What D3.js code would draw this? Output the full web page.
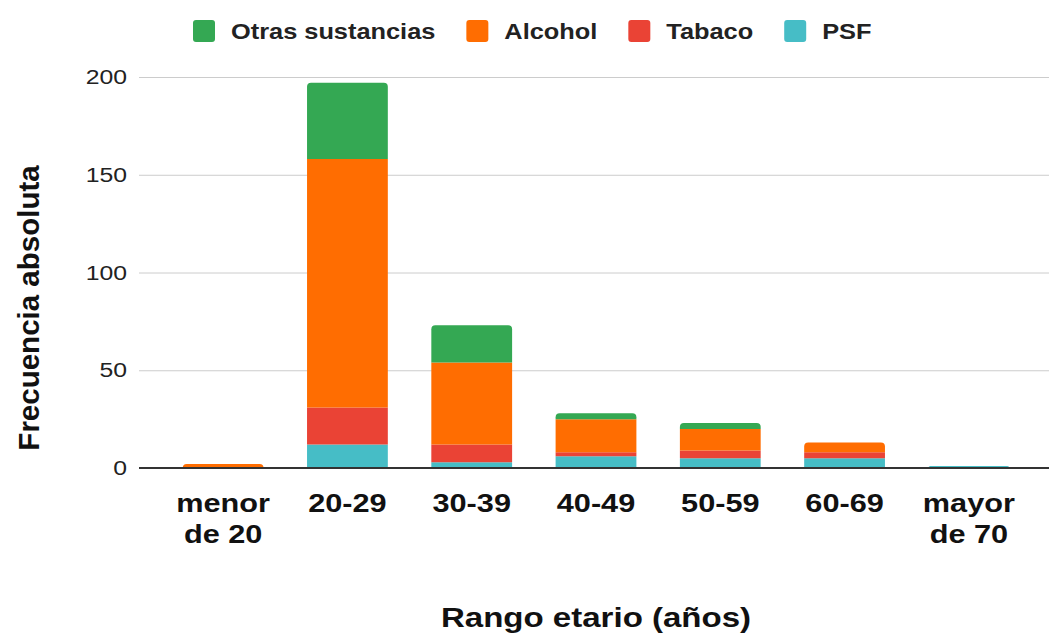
<!DOCTYPE html>
<html>
<head>
<meta charset="utf-8">
<script src="https://cdn.jsdelivr.net/npm/d3@7"></script>
<style>
	body { margin: 0; background: #fff; }
	svg text { font-family: "Liberation Sans", Arial, sans-serif; }
</style>
</head>
<body>
<div id="chart"></div>
<script>

var categories = [["menor", "de 20"], ["20-29"], ["30-39"], ["40-49"], ["50-59"], ["60-69"], ["mayor", "de 70"]];
var seriesNames = ["PSF", "Tabaco", "Alcohol", "Otras sustancias"];
var psf = [0, 12, 3, 6, 5, 5, 1];
var tabaco = [0, 19, 9, 2, 4, 3, 0];
var alcohol = [2, 127, 42, 17, 11, 5, 0];
var otras = [0, 39, 19, 3, 3, 0, 0];
var yTicks = [0, 50, 100, 150, 200];
var legendOrder = ["Otras sustancias", "Alcohol", "Tabaco", "PSF"];

var colors = {"PSF": "#46BDC6", "Tabaco": "#EA4335", "Alcohol": "#FF6D01", "Otras sustancias": "#34A853"};
var values = {"PSF": psf, "Tabaco": tabaco, "Alcohol": alcohol, "Otras sustancias": otras};

var width = 1049, height = 640,
	plot = {left: 139, right: 1049, top: 77, bottom: 468},
	stretch = 1.18; // the source image is a bit wider than tall

var svg = d3.select("#chart")
	.append("svg")
		.attr("width", width)
		.attr("height", height);

var xScale = d3.scaleBand().domain(d3.range(categories.length)).range([161, 1031]).paddingInner(0.35).paddingOuter(0.175);
var yScale = d3.scaleLinear().domain([0, 200]).range([plot.bottom, plot.top]);

// gridlines + tick labels
var yAxis = d3.axisLeft(yScale).tickValues(yTicks).tickSize(-(plot.right - plot.left)).tickPadding(12);

svg.append("g")
	.attr("class", "y axis")
	.attr("transform", "translate(" + plot.left + ",0)")
	.call(yAxis)
	.call(function(g) {
		g.select(".domain").remove();
		g.selectAll(".tick line").attr("stroke", "#cccccc").attr("stroke-width", 1);
		g.selectAll(".tick text")
			.attr("x", 0)
			.attr("transform", "translate(-12,0) scale(" + stretch + ",1)")
			.attr("fill", "#222")
			.style("font-size", "21px");
	});

// stacked bars
var rows = categories.map(function(c, i) {
	var r = {index: i};
	seriesNames.forEach(function(s) { r[s] = values[s][i]; });
	return r;
});
var stacked = d3.stack().keys(seriesNames)(rows);

function topIndex(i) {
	var top = -1;
	seriesNames.forEach(function(s, k) { if(values[s][i] > 0) top = k; });
	return top;
}

function segPath(x, w, y0, y1, rounded) {
	var r = rounded ? Math.min(4, (y0 - y1)) : 0;
	return "M" + x + "," + y0 +
		"V" + (y1 + r) +
		(r ? "Q" + x + "," + y1 + " " + (x + r) + "," + y1 : "") +
		"H" + (x + w - r) +
		(r ? "Q" + (x + w) + "," + y1 + " " + (x + w) + "," + (y1 + r) : "") +
		"V" + y0 + "Z";
}

svg.append("g")
	.selectAll("g")
	.data(stacked)
	.enter().append("g")
		.attr("fill", function(d) { return colors[d.key]; })
	.selectAll("path")
	.data(function(d, k) { return d.map(function(p, i) { return {p: p, i: i, k: k}; }); })
	.enter().filter(function(d) { return d.p[1] > d.p[0]; }).append("path")
		.attr("d", function(d) {
			return segPath(xScale(d.i), xScale.bandwidth(), yScale(d.p[0]), yScale(d.p[1]), d.k === topIndex(d.i));
		});

// baseline
svg.append("line")
	.attr("x1", plot.left).attr("x2", plot.right)
	.attr("y1", plot.bottom).attr("y2", plot.bottom)
	.attr("stroke", "#333").attr("stroke-width", 2);

// category labels
var xl = svg.append("g").selectAll("text")
	.data(categories)
	.enter().append("text")
		.attr("transform", function(d, i) {
			return "translate(" + (xScale(i) + xScale.bandwidth() / 2) + ",512) scale(" + stretch + ",1)";
		})
		.attr("text-anchor", "middle")
		.style("font-size", "26px")
		.style("font-weight", "bold")
		.attr("fill", "#111");

xl.selectAll("tspan")
	.data(function(d) { return d; })
	.enter().append("tspan")
		.attr("x", 0)
		.attr("dy", function(d, i) { return i ? 31 : 0; })
		.text(function(d) { return d; });

// axis titles
svg.append("text")
	.attr("transform", "translate(" + ((plot.left + plot.right) / 2 + 2) + ",627) scale(" + stretch + ",1)")
	.attr("text-anchor", "middle")
	.style("font-size", "28px")
	.style("font-weight", "bold")
	.attr("fill", "#111")
	.text("Rango etario (años)");

svg.append("text")
	.attr("transform", "translate(39,308) rotate(-90)")
	.attr("text-anchor", "middle")
	.style("font-size", "29.5px")
	.style("font-weight", "bold")
	.attr("fill", "#111")
	.text("Frecuencia absoluta");

// legend
var legend = svg.append("g").attr("class", "legend");
var lx = 193;
legendOrder.forEach(function(name) {
	var item = legend.append("g").attr("transform", "translate(" + lx + ",0)");
	item.append("rect")
		.attr("x", 0).attr("y", 20)
		.attr("width", 22).attr("height", 22)
		.attr("rx", 3)
		.attr("fill", colors[name]);
	var t = item.append("text")
		.attr("transform", "translate(38,39) scale(" + stretch + ",1)")
		.style("font-size", "21.5px")
		.style("font-weight", "bold")
		.attr("fill", "#222")
		.text(name);
	lx += 38 + t.node().getComputedTextLength() * stretch + 31;
});

</script>
</body>
</html>
